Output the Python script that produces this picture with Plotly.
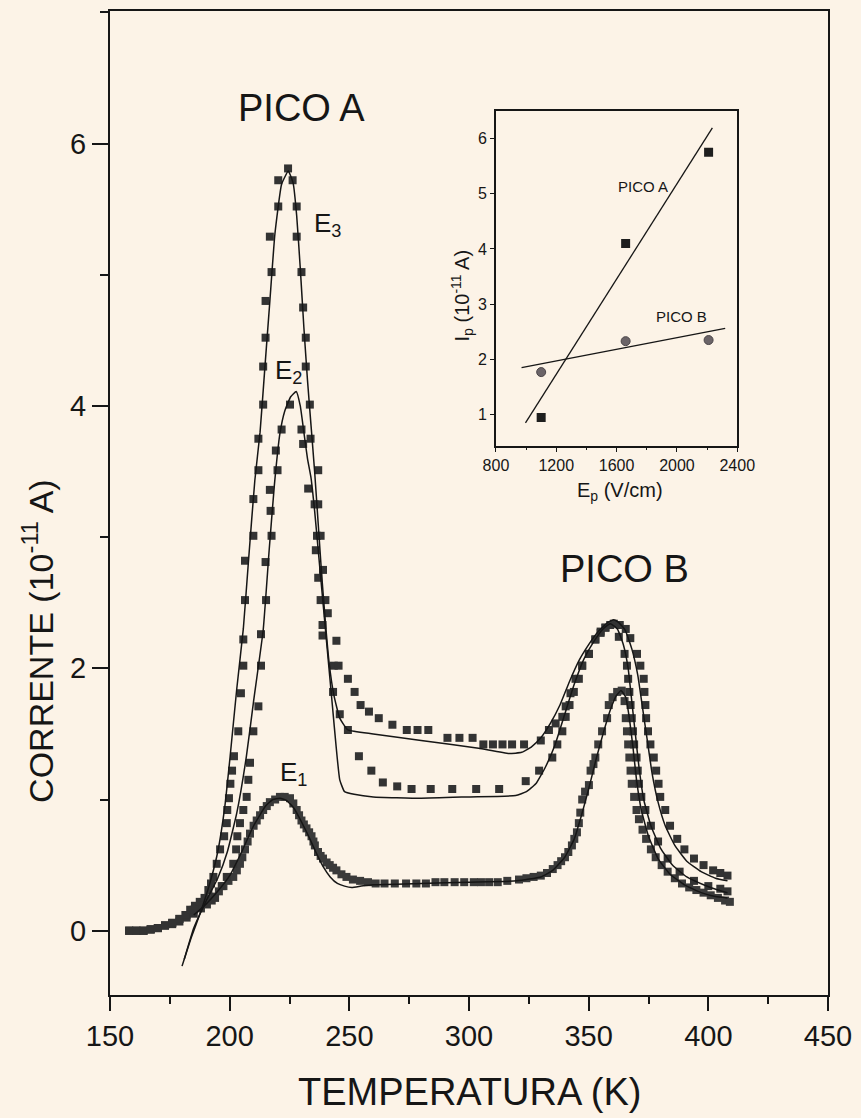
import plotly.graph_objects as go

# ---------------- main chart data (T in K, I in 1e-11 A) ----------------
T_E3 = [158,161,164,167,170,173,176,179,181.5,183.5,185.5,187.5,189.5,191.1,192.2,193.2,194.6,196,197.7,198.8,
        199,199.7,200.3,201,201.8,203.6,204.7,205.7,205.7,206.4,206.4,209.9,209.9,212,212,214,214,215,215,217.5,
        216.8,220.3,220.3,224.4,226.3,228,228,230,230.7,231.8,231.8,233.5,233.8,237,237,238,239,240,241,244.6,
        245.5,249.4,252.2,254.7,258.2,262.3,268,274,278.5,283,291,296,301.5,306,310,314,318,323,330,333.4,
        336.2,339,340.4,342.4,344.5,347.3,350.1,352.8,355,357,360.5,363,365.5,367.4,370.2,371.6,373,373.3,373.7,374,
        374.8,375.8,377.2,378.2,379.2,379.9,382,384,387,390,394,398,402,405,408]
I_E3 = [0,0,0,0.01,0.02,0.04,0.06,0.09,0.12,0.16,0.19,0.22,0.25,0.31,0.36,0.41,0.51,0.62,0.72,0.82,
        0.92,1.01,1.12,1.22,1.33,1.52,1.81,2.02,2.22,2.52,2.82,3.01,3.29,3.51,3.75,4.01,4.30,4.52,4.80,5.02,
        5.29,5.52,5.72,5.81,5.72,5.52,5.29,5.02,4.75,4.52,4.30,4.01,3.75,3.51,3.25,3.01,2.75,2.52,2.42,2.21,
        2.02,1.92,1.82,1.72,1.67,1.62,1.57,1.53,1.53,1.53,1.47,1.47,1.47,1.42,1.42,1.42,1.42,1.42,1.45,1.53,
        1.58,1.63,1.71,1.81,1.92,2.02,2.11,2.22,2.28,2.31,2.34,2.33,2.30,2.23,2.11,2.02,1.92,1.82,1.72,1.62,
        1.52,1.42,1.32,1.22,1.12,1.02,0.92,0.80,0.70,0.62,0.55,0.50,0.46,0.44,0.42]

T_E2 = [158,161,164,167,170,173,176,179,182,185,188,190.5,192.5,193.9,196.7,198.8,201.5,202.7,203.2,204.3,
        205.7,207.1,207.8,208.5,209.9,212,213.1,213.1,215.2,215,217.5,217.1,216.8,220,219.3,221.7,225.2,230,230.7,232.8,
        235.5,236.5,236,237,238,238.8,238.8,243.5,243.2,246,249.4,254,259.2,264,270,276,284,293,303,312.6,
        323.7,329.3,334.8,336.9,339,340.4,342,343.8,345.9,347.3,350.1,352.8,355,357,359,362.6,365,366,366.5,367,
        367.5,368,368.5,369,370,370.5,371,372,373.7,376,379,383,388,394,400,405,408]
I_E2 = [0,0,0,0.01,0.02,0.04,0.05,0.07,0.10,0.13,0.17,0.20,0.23,0.25,0.34,0.41,0.51,0.62,0.72,0.82,
        0.92,1.02,1.15,1.28,1.52,1.71,2.02,2.26,2.52,2.81,3.01,3.20,3.36,3.51,3.66,3.82,4.01,3.82,3.71,3.37,
        3.25,3.01,2.90,2.69,2.52,2.33,2.25,2.02,1.82,1.65,1.53,1.33,1.22,1.13,1.10,1.08,1.08,1.08,1.08,1.08,
        1.14,1.22,1.32,1.42,1.52,1.63,1.72,1.82,1.92,2.02,2.11,2.22,2.27,2.31,2.33,2.24,2.11,2.02,1.92,1.82,
        1.72,1.62,1.52,1.42,1.32,1.22,1.12,1.02,0.92,0.80,0.68,0.55,0.45,0.38,0.34,0.32,0.30]

T_E1 = [158,161,164,167,170,173,176,179,182,185,188,191,193.2,195.5,197.4,199.5,201.5,203,204.3,205.3,
        206.4,207.5,208.5,210,211.3,212.7,214,215.5,216.8,219,221,223,225.2,226.6,228,229,230,231,232.1,233.2,
        234.2,235,235.6,236.9,238,239,240.5,241.8,243.2,244.6,246.7,248.8,251.5,254.5,257.8,261,264.7,269,273.7,278,
        282,286,289.7,294,298,302,305,308.4,312,316,320.9,324,327,330,332.6,335,337,338.5,340.1,341.5,
        343,344,345.1,345.9,346.5,347.3,348.5,350.1,350.8,352,352.8,354,355.6,357.7,358.4,360,361.9,363.8,365,365.5,
        366,366.5,367,367.5,368,369,370,371,372.5,374,376,378,380.5,383,386,389,392,395,398,401,
        404,407,409]
I_E1 = [0,0,0,0.01,0.02,0.04,0.06,0.09,0.12,0.16,0.20,0.24,0.26,0.30,0.34,0.38,0.41,0.46,0.51,0.56,
        0.62,0.68,0.74,0.80,0.84,0.88,0.92,0.95,0.98,1.00,1.02,1.02,1.01,0.97,0.92,0.88,0.84,0.81,0.78,0.75,
        0.72,0.68,0.65,0.60,0.57,0.55,0.52,0.50,0.48,0.46,0.43,0.41,0.39,0.38,0.37,0.36,0.36,0.36,0.36,0.36,
        0.36,0.37,0.37,0.37,0.37,0.37,0.37,0.37,0.37,0.38,0.39,0.40,0.41,0.42,0.44,0.47,0.50,0.53,0.56,0.60,
        0.65,0.70,0.75,0.82,0.90,1.00,1.06,1.11,1.22,1.27,1.32,1.42,1.52,1.62,1.72,1.78,1.82,1.83,1.75,1.62,
        1.52,1.42,1.32,1.22,1.12,1.02,0.92,0.85,0.77,0.70,0.62,0.56,0.50,0.45,0.40,0.36,0.33,0.31,0.29,0.27,
        0.25,0.23,0.22]

# fitted curves
FIT_T_E3 = [180.1,184,188,192,195,198,200.2,203,205.7,208,210.5,212.7,214.7,216.8,218.9,221.7,224.5,226.5,228,229.5,
            231,232.5,234,235.5,237,238.5,240,241.5,243.5,246,249.4,260,280,304,316.7,322,326,330,334,338,
            342,346,350,354,358,360.5,362.5,365.3,368,370.5,372.5,374.5,376.5,379,382,386,391,397,403,408]
FIT_I_E3 = [-0.27,-0.05,0.15,0.38,0.60,0.95,1.33,1.85,2.30,2.85,3.43,3.80,4.29,4.80,5.31,5.69,5.79,5.70,5.45,5.05,
            4.60,4.20,3.85,3.50,3.10,2.70,2.35,2.05,1.80,1.62,1.53,1.50,1.45,1.39,1.35,1.36,1.40,1.47,1.58,1.72,
            1.90,2.06,2.18,2.28,2.35,2.37,2.35,2.29,2.15,1.95,1.70,1.45,1.20,0.98,0.80,0.65,0.53,0.45,0.40,0.38]

FIT_T_E2 = [181,185,190,195,199,203,207,210,214,216.5,218.7,221,223,225.5,227.8,229.5,231,232.5,234,235.5,
            237,238.5,240,241.5,243,244.5,246,248,252,260,280,300,319.5,324,327.9,332,336,340,344,348,
            352,356,359,362,364.5,366.5,368,369.5,371,373,376,380,385,391,398,404,408]
FIT_I_E2 = [-0.22,0.02,0.22,0.40,0.60,0.90,1.33,1.75,2.29,2.90,3.40,3.79,3.96,4.07,4.11,4.00,3.80,3.60,3.45,3.20,
            2.90,2.60,2.30,2.00,1.70,1.40,1.15,1.06,1.04,1.02,1.01,1.02,1.03,1.06,1.12,1.25,1.42,1.65,1.88,2.07,
            2.20,2.30,2.34,2.30,2.18,2.00,1.75,1.50,1.25,1.00,0.80,0.63,0.50,0.41,0.35,0.31,0.29]

FIT_T_E1 = [185,190,195,200,205,210,215,218,221,224,227,230,233,236,239,242,245,248,251,255,
            260,280,300,320,330,335,340,344,347,350,353,356,359,361.5,363.5,365.5,367,368.5,370,372,
            375,379,384,390,397,403,408]
FIT_I_E1 = [0.12,0.20,0.30,0.42,0.60,0.80,0.95,1.00,1.01,0.99,0.93,0.83,0.72,0.60,0.49,0.41,0.36,0.34,0.33,0.34,
            0.35,0.36,0.37,0.38,0.41,0.46,0.56,0.70,0.88,1.08,1.30,1.50,1.68,1.79,1.83,1.78,1.62,1.40,1.15,0.92,
            0.72,0.55,0.43,0.35,0.29,0.26,0.25]

# ---------------- inset data ----------------
EP = [1100, 1660, 2210]
IP_PICO_A = [0.95, 4.10, 5.75]
IP_PICO_B = [1.77, 2.33, 2.35]
FIT_EP_A = [996, 2235]
FIT_IP_A = [0.85, 6.19]
FIT_EP_B = [970, 2320]
FIT_IP_B = [1.85, 2.56]

X_TICKS = [150, 200, 250, 300, 350, 400, 450]
Y_TICKS = [0, 2, 4, 6]
INSET_X_TICKS = [800, 1200, 1600, 2000, 2400]
INSET_Y_TICKS = [1, 2, 3, 4, 5, 6]

for a, b in [(T_E3, I_E3), (T_E2, I_E2), (T_E1, I_E1), (FIT_T_E3, FIT_I_E3),
             (FIT_T_E2, FIT_I_E2), (FIT_T_E1, FIT_I_E1)]:
    assert len(a) == len(b), (len(a), len(b))

BG = "#fcf3e7"
INK = "#161616"
SQ = "#333333"
FONT = "Liberation Sans, Arial, sans-serif"

fig = go.Figure()

for T, I, col in [(T_E1, I_E1, "#3a3a3a"), (T_E2, I_E2, SQ), (T_E3, I_E3, SQ)]:
    fig.add_trace(go.Scatter(x=T, y=I, mode="markers",
                             marker=dict(symbol="square", size=8, color=col, line=dict(width=0)),
                             showlegend=False, hoverinfo="skip"))
for T, I in [(FIT_T_E1, FIT_I_E1), (FIT_T_E2, FIT_I_E2), (FIT_T_E3, FIT_I_E3)]:
    fig.add_trace(go.Scatter(x=T, y=I, mode="lines",
                             line=dict(color=INK, width=1.5, shape="spline", smoothing=0.4),
                             showlegend=False, hoverinfo="skip"))

# inset
fig.add_trace(go.Scatter(x=FIT_EP_A, y=FIT_IP_A, mode="lines", line=dict(color=INK, width=1.3),
                         xaxis="x2", yaxis="y2", showlegend=False))
fig.add_trace(go.Scatter(x=FIT_EP_B, y=FIT_IP_B, mode="lines", line=dict(color=INK, width=1.3),
                         xaxis="x2", yaxis="y2", showlegend=False))
fig.add_trace(go.Scatter(x=EP, y=IP_PICO_A, mode="markers",
                         marker=dict(symbol="square", size=9, color="#1e1e1e"),
                         xaxis="x2", yaxis="y2", showlegend=False))
fig.add_trace(go.Scatter(x=EP, y=IP_PICO_B, mode="markers",
                         marker=dict(symbol="circle", size=9, color="#6b6468",
                                     line=dict(color="#4a4548", width=1)),
                         xaxis="x2", yaxis="y2", showlegend=False))

W, H = 861, 1118
L, R, T_, B = 110, 31, 9, 123
PW, PH = W - L - R, H - T_ - B

def px(xp):
    return (xp - L) / PW

def py(yp):
    return (H - B - yp) / PH

fig.update_layout(
    width=W, height=H,
    margin=dict(l=L, r=R, t=T_, b=B, pad=0),
    paper_bgcolor=BG, plot_bgcolor=BG,
    font=dict(family=FONT, color=INK),
    xaxis=dict(range=[150, 450], tickvals=X_TICKS, ticks="outside", ticklen=14, tickwidth=2,
               tickcolor=INK, showline=True, linewidth=2, linecolor=INK, mirror=True,
               showgrid=False, zeroline=False, tickfont=dict(size=29),
               minor=dict(dtick=25, tick0=150, ticks="outside", ticklen=7, tickwidth=2, tickcolor=INK)),
    yaxis=dict(range=[-0.49, 7.01], tickvals=Y_TICKS, ticks="outside", ticklen=16, tickwidth=2,
               tickcolor=INK, showline=True, linewidth=2, linecolor=INK, mirror=True,
               showgrid=False, zeroline=False, tickfont=dict(size=29),
               minor=dict(dtick=1, tick0=0, ticks="outside", ticklen=8, tickwidth=2, tickcolor=INK)),
    xaxis2=dict(domain=[px(497), px(739)], anchor="y2", range=[800, 2400], tickvals=INSET_X_TICKS,
                ticks="outside", ticklen=4, tickwidth=1.3, tickcolor=INK, showline=True, linewidth=1.5,
                linecolor=INK, mirror=True, showgrid=False, zeroline=False, tickfont=dict(size=16),
                minor=dict(dtick=200, tick0=800, ticks="outside", ticklen=2, tickwidth=1, tickcolor=INK)),
    yaxis2=dict(domain=[py(445), py(109)], anchor="x2", range=[0.43, 6.5], tickvals=INSET_Y_TICKS,
                ticks="outside", ticklen=4, tickwidth=1.3, tickcolor=INK, showline=True, linewidth=1.5,
                linecolor=INK, mirror=True, showgrid=False, zeroline=False, tickfont=dict(size=16)),
)

C = dict(showarrow=False, xanchor="center", yanchor="middle")
ann = []
ann.append(dict(text="PICO A", x=230.2, y=6.27, xref="x", yref="y", font=dict(size=38), **C))
ann.append(dict(text="PICO B", x=365, y=2.76, xref="x", yref="y", font=dict(size=38), **C))
ann.append(dict(text="E<sub>3</sub>", x=234.5, y=5.38, xref="x", yref="y", showarrow=False,
                xanchor="left", yanchor="middle", font=dict(size=26)))
ann.append(dict(text="E<sub>2</sub>", x=218.1, y=4.26, xref="x", yref="y", showarrow=False,
                xanchor="left", yanchor="middle", font=dict(size=26)))
ann.append(dict(text="E<sub>1</sub>", x=220.2, y=1.2, xref="x", yref="y", showarrow=False,
                xanchor="left", yanchor="middle", font=dict(size=26)))
ann.append(dict(text="TEMPERATURA (K)", x=px(471), y=py(1092), xref="paper", yref="paper",
                font=dict(size=38), **C))
ann.append(dict(text="CORRENTE (10<sup>-11</sup> A)", x=px(38), y=py(640), xref="paper",
                yref="paper", textangle=-90, font=dict(size=34), **C))
# inset labels
ann.append(dict(text="PICO A", x=1778, y=5.13, xref="x2", yref="y2", font=dict(size=15), **C))
ann.append(dict(text="PICO B", x=2030, y=2.78, xref="x2", yref="y2", font=dict(size=15), **C))
ann.append(dict(text="E<sub>p</sub> (V/cm)", x=px(621), y=py(490), xref="paper", yref="paper",
                font=dict(size=20), **C))
ann.append(dict(text="I<sub>p</sub> (10<sup>-11</sup> A)", x=px(463), y=py(295), xref="paper",
                yref="paper", textangle=-90, font=dict(size=20), **C))
fig.update_layout(annotations=ann)

fig.write_html("out.html")
